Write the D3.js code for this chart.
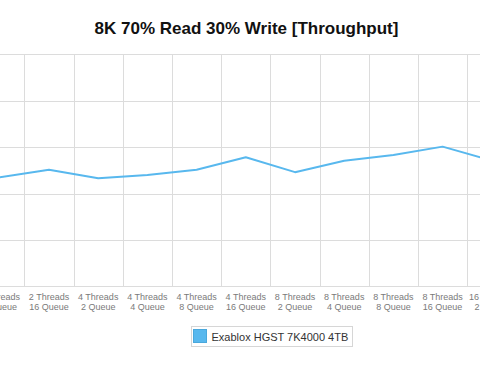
<!DOCTYPE html>
<html>
<head>
<meta charset="utf-8">
<script src="https://cdn.jsdelivr.net/npm/d3@7/dist/d3.min.js"></script>
<style>
  html, body { margin: 0; padding: 0; background: #fff; overflow: hidden; }
  svg { display: block; font-family: "Liberation Sans", Arial, Helvetica, sans-serif; }
</style>
</head>
<body>
<svg id="chart" width="480" height="375"></svg>
<script>
// Data (visible window of the chart)
const threads = ["2 Threads", "2 Threads", "4 Threads", "4 Threads", "4 Threads", "4 Threads",
                 "8 Threads", "8 Threads", "8 Threads", "8 Threads", "16 Threads"];
const queues = ["8 Queue", "16 Queue", "2 Queue", "4 Queue", "8 Queue", "16 Queue",
                "2 Queue", "4 Queue", "8 Queue", "16 Queue", "2 Queue"];
const categories = threads.map((t, i) => t + " " + queues[i]);
const seriesName = "Exablox HGST 7K4000 4TB";
const throughput = [23.5, 25.1, 23.3, 24.0, 25.1, 27.8, 24.6, 27.05, 28.3, 30.1, 27.1];
const yTicks = [0, 10, 20, 30, 40, 50];
const title = "8K 70% Read 30% Write [Throughput]";

const svg = d3.select("#chart");
const color = "#58b8ee";
const gridColor = "#dcdcdc";

const plotTop = 54.3, plotBottom = 286.3;
const step = 49.2;
const x0 = -0.2;

const x = d3.scalePoint().domain(categories).range([x0, x0 + step * (categories.length - 1)]);
const y = d3.scaleLinear().domain([0, 50]).range([plotBottom, plotTop]);

// Title
svg.append("text")
  .attr("x", 246.5).attr("y", 34)
  .attr("text-anchor", "middle")
  .attr("font-size", 17).attr("font-weight", "bold")
  .attr("fill", "#111")
  .text(title);

const g = svg.append("g");

// Horizontal gridlines
g.selectAll("line.h").data(yTicks).enter().append("line")
  .attr("x1", -10).attr("x2", 490)
  .attr("y1", d => Math.round(y(d)) + 0.5).attr("y2", d => Math.round(y(d)) + 0.5)
  .attr("stroke", gridColor).attr("stroke-width", 1);

// Vertical gridlines (between categories)
const vlines = categories.map(c => x(c) + step / 2);
g.selectAll("line.v").data(vlines).enter().append("line")
  .attr("x1", d => Math.round(d) + 0.5).attr("x2", d => Math.round(d) + 0.5)
  .attr("y1", plotTop).attr("y2", plotBottom)
  .attr("stroke", gridColor).attr("stroke-width", 1);

// Line
const line = d3.line()
  .x((d, i) => x(categories[i]))
  .y(d => y(d));
g.append("path")
  .datum(throughput)
  .attr("d", line)
  .attr("fill", "none")
  .attr("stroke", color)
  .attr("stroke-width", 2)
  .attr("stroke-linejoin", "round");

// X labels (two lines)
const lbl = g.selectAll("text.xl").data(categories).enter().append("text")
  .attr("text-anchor", "middle")
  .attr("font-size", 9)
  .attr("fill", "#7a7a7a");
lbl.append("tspan").attr("x", d => x(d)).attr("y", 299.5).text((d, i) => threads[i]);
lbl.append("tspan").attr("x", d => x(d)).attr("y", 309.5).text((d, i) => queues[i]);

// Legend
const lg = svg.append("g");
lg.append("rect")
  .attr("x", 191.5).attr("y", 326.5).attr("width", 161).attr("height", 20)
  .attr("fill", "#fff").attr("stroke", "#d6d6d6");
lg.append("rect")
  .attr("x", 193.5).attr("y", 329.5).attr("width", 13).attr("height", 13)
  .attr("fill", color).attr("stroke", "#4aa8dc");
lg.append("text")
  .attr("x", 211.5).attr("y", 340.5)
  .attr("font-size", 11).attr("fill", "#333")
  .text(seriesName);
</script>
</body>
</html>
